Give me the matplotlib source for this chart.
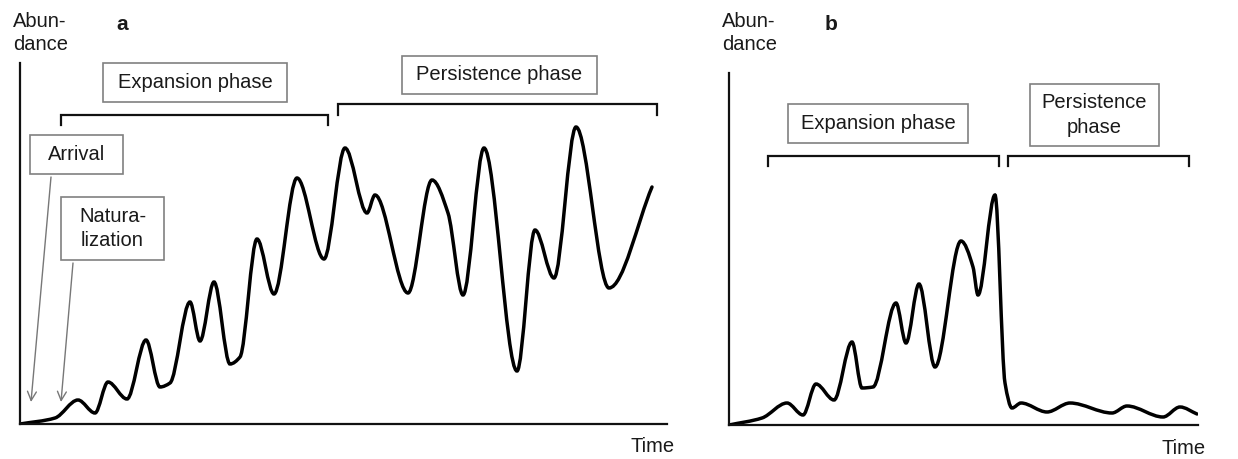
import numpy as np
import matplotlib
matplotlib.use("Agg")
import matplotlib.pyplot as plt
from matplotlib.path import Path
from matplotlib.patches import PathPatch, Rectangle

plt.rcParams['font.family'] = ['Liberation Sans', 'DejaVu Sans']

# Panel a: invasion with expansion then persistence (time, abundance)
time_a = [0, 35, 58, 75, 88, 107, 126, 140, 150, 170, 180, 194, 210, 220,
          237, 254, 277, 304, 325, 347, 355, 388, 412, 428, 443, 464, 497,
          515, 534, 556, 589, 632]
abund_a = [0, 6, 24, 11, 42, 25, 84, 37, 41, 122, 83, 142, 60, 67,
           185, 130, 246, 165, 276, 211, 229, 131, 244, 211, 129, 276, 53,
           194, 146, 297, 136, 237]

# Panel b: expansion followed by collapse to low persistence
time_b = [0, 33, 58, 74, 87, 105, 123, 133, 144, 167, 177, 190, 206, 232,
          244, 249, 266, 276, 283, 292, 318, 341, 383, 398, 434, 451, 468]
abund_b = [0, 7, 22, 10, 41, 25, 83, 37, 38, 122, 82, 141, 58, 184,
           158, 130, 230, 42, 17, 22, 13, 22, 12, 19, 8, 18, 11]

TEXT = '#1a1a1a'
BOX = '#808080'
FS = 14.5


def smooth_path(xs, ys):
    # monotone cubic through the points, written as bezier segments
    xs = np.asarray(xs, float)
    ys = np.asarray(ys, float)
    h = np.diff(xs)
    d = np.diff(ys) / h
    m = np.zeros_like(xs)
    m[0], m[-1] = d[0], d[-1]
    for k in range(1, len(xs) - 1):
        if d[k - 1] * d[k] > 0:
            w1 = 2 * h[k] + h[k - 1]
            w2 = h[k] + 2 * h[k - 1]
            m[k] = (w1 + w2) / (w1 / d[k - 1] + w2 / d[k])
    verts = [(xs[0], ys[0])]
    codes = [Path.MOVETO]
    for k in range(len(h)):
        verts += [(xs[k] + h[k] / 3, ys[k] + m[k] * h[k] / 3),
                  (xs[k + 1] - h[k] / 3, ys[k + 1] - m[k + 1] * h[k] / 3),
                  (xs[k + 1], ys[k + 1])]
        codes += [Path.CURVE4] * 3
    return Path(verts, codes)


def label_box(ax, x0, x1, y0, y1, text):
    ax.add_patch(Rectangle((x0, y0), x1 - x0, y1 - y0, fill=False,
                           edgecolor=BOX, lw=1.2, clip_on=False))
    ax.text((x0 + x1) / 2, (y0 + y1) / 2, text, ha='center', va='center',
            fontsize=FS, color=TEXT, linespacing=1.35, clip_on=False)


def bracket(ax, x0, x1, y_top, y_bot):
    ax.plot([x0, x0, x1, x1], [y_bot, y_top, y_top, y_bot], color='#111111',
            lw=1.6, clip_on=False, solid_joinstyle='miter')


def setup(ax, xmax, ymax, top_px, letter):
    ax.set_xlim(0, xmax)
    ax.set_ylim(0, ymax)
    for s in ['top', 'right']:
        ax.spines[s].set_visible(False)
    for s in ['left', 'bottom']:
        ax.spines[s].set_linewidth(1.6)
        ax.spines[s].set_color('#111111')
    ax.set_xticks([])
    ax.set_yticks([])
    ax.text(-7, ymax + top_px - 33, 'Abun-\ndance', ha='left', va='center',
            fontsize=FS, color=TEXT, linespacing=1.25, clip_on=False)
    ax.text(102, ymax + top_px - 25, letter, ha='center', va='center',
            fontsize=15, fontweight='bold', color=TEXT, clip_on=False)
    ax.text(xmax - 14, -23, 'Time', ha='center', va='center', fontsize=FS,
            color=TEXT, clip_on=False)


fig = plt.figure(figsize=(12.38, 4.59), dpi=100)
W, H = 1238, 459

ax_a = fig.add_axes([20 / W, 35 / H, 647 / W, 361 / H])
setup(ax_a, 647, 361, 63, 'a')
ax_a.add_patch(PathPatch(smooth_path(time_a, abund_a), fill=False,
                         lw=2.5, edgecolor='black', capstyle='round'))
label_box(ax_a, 83, 267, 322, 361, 'Expansion phase')
label_box(ax_a, 382, 577, 330, 368, 'Persistence phase')
label_box(ax_a, 10, 103, 250, 289, 'Arrival')
label_box(ax_a, 41, 144, 164, 227, 'Natura-\nlization')
bracket(ax_a, 41, 308, 309, 299)
bracket(ax_a, 318, 637, 320, 309)
arrow = dict(arrowstyle='->', color='#777777', lw=1.0, mutation_scale=16,
             shrinkA=0, shrinkB=0)
ax_a.annotate('', xy=(11, 22), xytext=(31, 247), arrowprops=arrow,
              annotation_clip=False)
ax_a.annotate('', xy=(41, 22), xytext=(53, 161), arrowprops=arrow,
              annotation_clip=False)

ax_b = fig.add_axes([729 / W, 34 / H, 469 / W, 352 / H])
setup(ax_b, 469, 352, 73, 'b')
ax_b.add_patch(PathPatch(smooth_path(time_b, abund_b), fill=False,
                         lw=2.5, edgecolor='black', capstyle='round'))
label_box(ax_b, 59, 239, 282, 321, 'Expansion phase')
label_box(ax_b, 301, 430, 279, 341, 'Persistence\nphase')
bracket(ax_b, 39, 270, 269, 259)
bracket(ax_b, 279, 460, 269, 259)

fig.savefig('out.png', dpi=100)
